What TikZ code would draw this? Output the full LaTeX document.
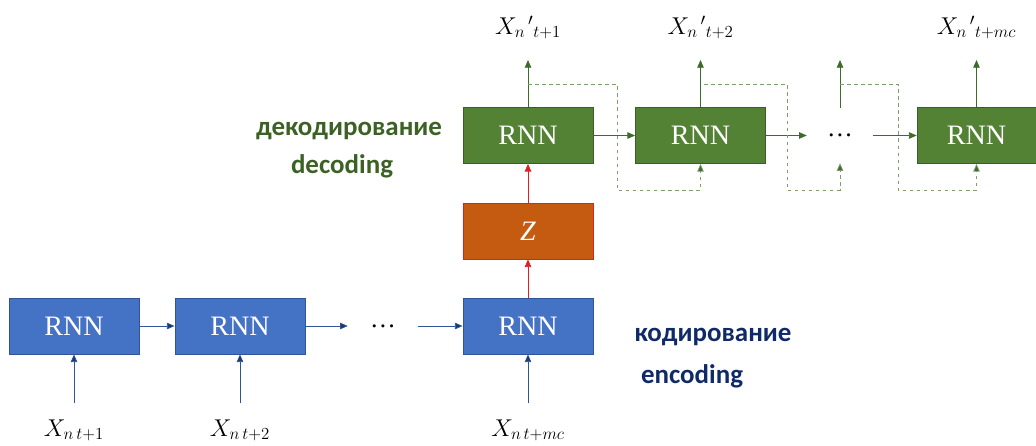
\documentclass[tikz,border=0pt]{standalone}
\usepackage{fontspec}
\setmainfont{Liberation Serif}
\newfontfamily\lblfont{Carlito}
\usepackage{tikz}
\usetikzlibrary{arrows.meta}

\definecolor{encfill}{HTML}{4472C4}
\definecolor{encline}{HTML}{2F5597}
\definecolor{decfill}{HTML}{548235}
\definecolor{decline}{HTML}{3B5E24}
\definecolor{zfill}{HTML}{C55A11}
\definecolor{zline}{HTML}{E02020}
\definecolor{navy}{HTML}{1F3864}
\definecolor{darkgreen}{HTML}{3D6B2A}
\definecolor{fbgreen}{HTML}{7F9E6E}
\definecolor{lblgreen}{HTML}{3B6124}
\definecolor{lblnavy}{HTML}{0F2A66}

\tikzset{
  rnnbox/.style={rectangle, minimum width=3.9cm, minimum height=1.68cm, inner sep=0pt,
    text=white, font=\fontsize{24}{28}\selectfont, line width=0.7pt},
  encbox/.style={rnnbox, fill=encfill, draw=encline},
  decbox/.style={rnnbox, fill=decfill, draw=decline},
  zbox/.style={rnnbox, fill=zfill, draw=zline},
  gapnode/.style={rectangle, inner sep=0pt, minimum height=1.65cm, font=\fontsize{22}{26}\selectfont},
  xlabel/.style={anchor=base, font=\fontsize{22}{26}\selectfont},
  steplbl/.style={font=\lblfont\bfseries\fontsize{23}{27}\selectfont},
  encarrow/.style={draw=encline, line width=0.6pt, -{Triangle[length=6.5pt,width=5.5pt,fill=navy]}},
  decarrow/.style={draw=darkgreen, line width=0.6pt, -{Triangle[length=6.5pt,width=5.5pt,fill=darkgreen]}},
  fbarrow/.style={draw=fbgreen, dashed, line width=0.6pt, -{Triangle[length=6.5pt,width=5.5pt,fill=darkgreen]}},
  zarrow/.style={draw=zline, line width=0.6pt, -{Triangle[length=6.5pt,width=5.5pt,fill=zline]}}
}

\begin{document}
\begin{tikzpicture}[x=0.03cm, y=-0.03cm]
  \useasboundingbox (0,0) rectangle (1036,445);

  % encoder
  \node[encbox] (e1) at (74,326) {RNN};
  \node[encbox] (e2) at (240,326) {RNN};
  \node[gapnode, minimum width=2.1cm] (edots) at (383,326) {\dots};
  \node[encbox] (e3) at (528,326) {RNN};

  \draw[encarrow] (e1) -- (e2);
  \draw[encarrow] (e2) -- (edots);
  \draw[encarrow] (edots) -- (e3);

  \coordinate (in1) at (74,403);
  \coordinate (in2) at (240,403);
  \coordinate (in3) at (528,403);
  \draw[encarrow] (in1) -- (e1);
  \draw[encarrow] (in2) -- (e2);
  \draw[encarrow] (in3) -- (e3);

  \node[xlabel] (x1) at (74,436) {$X_{n\,t+1}$};
  \node[xlabel] (x2) at (240,436) {$X_{n\,t+2}$};
  \node[xlabel] (x3) at (528,436) {$X_{n\,t+mc}$};

  % latent
  \node[zbox] (z) at (528,231) {\textit{Z}};
  \draw[zarrow] (e3) -- (z);

  % decoder
  \node[decbox] (d1) at (528,135.5) {RNN};
  \node[decbox] (d2) at (700.5,135.5) {RNN};
  \node[gapnode, minimum width=1.98cm] (ddots) at (840,135.5) {\dots};
  \node[decbox, minimum width=3.57cm] (d3) at (976.5,135.5) {RNN};

  \draw[zarrow] (z) -- (d1);
  \draw[decarrow] (d1) -- (d2);
  \draw[decarrow] (d2) -- (ddots);
  \draw[decarrow] (ddots) -- (d3);

  \coordinate (o1) at (528,60);
  \coordinate (o2) at (700.5,60);
  \coordinate (o3) at (840,60);
  \coordinate (o4) at (976.5,60);
  \draw[decarrow] (d1) -- (o1);
  \draw[decarrow] (d2) -- (o2);
  \draw[decarrow] (ddots) -- (o3);
  \draw[decarrow] (d3) -- (o4);

  \node[xlabel] (y1) at (528,34) {$X_{n\,}{}'{}_{t+1}$};
  \node[xlabel] (y2) at (700.5,34) {$X_{n\,}{}'{}_{t+2}$};
  \node[xlabel] (y4) at (976.5,34) {$X_{n\,}{}'{}_{t+mc}$};

  % feedback
  \coordinate (f1) at (528,84);
  \coordinate (f2) at (704,84);
  \coordinate (f3) at (840,84);
  \coordinate (k1) at (617,190);
  \coordinate (k2) at (787,190);
  \coordinate (k3) at (898,190);
  \draw[fbarrow] (f1) -| (k1) -| (d2.south);
  \draw[fbarrow] (f2) -| (k2) -| (ddots.south);
  \draw[fbarrow] (f3) -| (k3) -| (d3.south);

  % labels
  \node[steplbl, text=lblgreen] (declbl1) at (349,131) {декодирование};
  \node[steplbl, text=lblgreen] (declbl2) at (342,166) {decoding};
  \node[steplbl, text=lblnavy] (enclbl1) at (713,337) {кодирование};
  \node[steplbl, text=lblnavy] (enclbl2) at (692,376) {encoding};
\end{tikzpicture}
\end{document}
